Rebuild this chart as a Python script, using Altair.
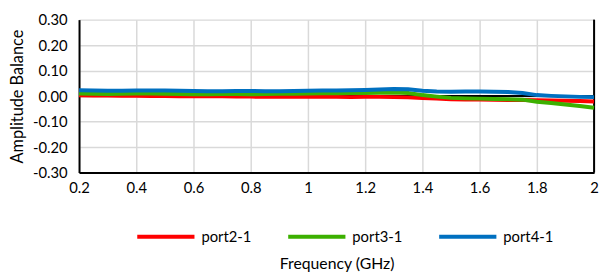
import altair as alt
import pandas as pd

freq = [0.20,0.25,0.30,0.35,0.40,0.45,0.50,0.55,0.60,0.65,0.70,0.75,0.80,0.85,0.90,0.95,1.00,
        1.05,1.10,1.15,1.20,1.25,1.30,1.35,1.40,1.45,1.50,1.55,1.60,1.65,1.70,1.75,1.80,1.85,1.90,1.95,2.00]
port2 = [0.003,0.002,0.002,0.001,0.001,0.000,0.000,-0.001,-0.001,0.000,-0.001,-0.002,-0.002,-0.003,-0.002,-0.003,-0.003,
         -0.002,-0.003,-0.004,-0.003,-0.003,-0.004,-0.005,-0.008,-0.010,-0.012,-0.013,-0.013,-0.014,-0.015,-0.015,-0.016,-0.017,-0.018,-0.019,-0.021]
port3 = [0.010,0.009,0.008,0.009,0.010,0.010,0.009,0.008,0.007,0.007,0.008,0.008,0.007,0.008,0.009,0.009,0.010,
         0.011,0.011,0.012,0.012,0.013,0.014,0.012,0.004,-0.002,-0.007,-0.009,-0.010,-0.011,-0.012,-0.014,-0.022,-0.027,-0.033,-0.039,-0.046]
port4 = [0.023,0.022,0.021,0.021,0.022,0.022,0.022,0.021,0.020,0.019,0.019,0.020,0.020,0.019,0.019,0.020,0.021,
         0.022,0.022,0.023,0.024,0.026,0.028,0.027,0.021,0.018,0.017,0.018,0.018,0.017,0.016,0.012,0.004,0.001,-0.001,-0.003,-0.004]

series = ["port2-1", "port3-1", "port4-1"]
colors = ["#ff0000", "#3cb000", "#0070c0"]
x_ticks = [0.2, 0.4, 0.6, 0.8, 1.0, 1.2, 1.4, 1.6, 1.8, 2.0]
y_ticks = [-0.3, -0.2, -0.1, 0.0, 0.1, 0.2, 0.3]

rows = []
for name, vals in zip(series, [port2, port3, port4]):
    for f, v in zip(freq, vals):
        rows.append({"freq": f, "val": v, "series": name})
df = pd.DataFrame(rows)

FONT = "Lato"

xscale = alt.Scale(domain=[0.2, 2.0], nice=False, zero=False)
yscale = alt.Scale(domain=[-0.3, 0.3], nice=False, zero=False)

xaxis = alt.Axis(values=x_ticks, format="~g", title="Frequency (GHz)",
                 ticks=False, labelPadding=8, grid=True, gridColor="#d9d9d9", gridWidth=1.5,
                 domainColor="black", domainWidth=2, labelOverlap=False, labelFlush=False,
                 titleX=261, titleY=92, titleBaseline="middle", titleFontWeight="normal",
                 titleFontSize=16, labelFontSize=15, labelFont=FONT, titleFont=FONT,
                 labelColor="black", titleColor="black")
yaxis = alt.Axis(values=y_ticks,
                 labelExpr="replace(format(datum.value, '.2f'), '\u2212', '-')",
                 title="Amplitude Balance", ticks=False, labelPadding=12,
                 grid=True, gridColor="#d9d9d9", gridWidth=1.5, labelOverlap=False, labelFlush=False,
                 domainColor="black", domainWidth=2,
                 titleX=-62, titleY=77.5, titleBaseline="middle", titleFontWeight="normal",
                 titleFontSize=16.5, labelFontSize=15, labelFont=FONT, titleFont=FONT,
                 labelColor="black", titleColor="black")

lines = alt.Chart(df).mark_line(strokeWidth=4).encode(
    x=alt.X("freq:Q", scale=xscale, axis=xaxis),
    y=alt.Y("val:Q", scale=yscale, axis=yaxis),
    color=alt.Color("series:N", scale=alt.Scale(domain=series, range=colors),
                    legend=alt.Legend(title=None, orient="none", direction="horizontal",
                                      legendX=57, legendY=189, symbolType="stroke",
                                      symbolSize=3364, symbolStrokeWidth=4, labelOffset=5,
                                      columnPadding=29, padding=0, labelFontSize=15,
                                      labelFont=FONT, labelColor="black")),
    order=alt.Order("series:N", sort="ascending"),
)

zero = alt.Chart(pd.DataFrame({"z": [0.0]})).mark_rule(color="black", strokeWidth=2).encode(
    y=alt.Y("z:Q", scale=yscale, axis=yaxis)
)
right = alt.Chart(pd.DataFrame({"r": [2.0]})).mark_rule(color="black", strokeWidth=2).encode(
    x=alt.X("r:Q", scale=xscale, axis=xaxis)
)

chart = alt.layer(zero, right, lines).properties(
    width=522, height=155,
    padding={"left": 72, "top": 10, "right": 5, "bottom": 100},
    autosize=alt.AutoSizeParams(type="none"),
).configure_view(stroke=None)

chart.save("out.html", embed_options={"renderer": "svg", "actions": False})
